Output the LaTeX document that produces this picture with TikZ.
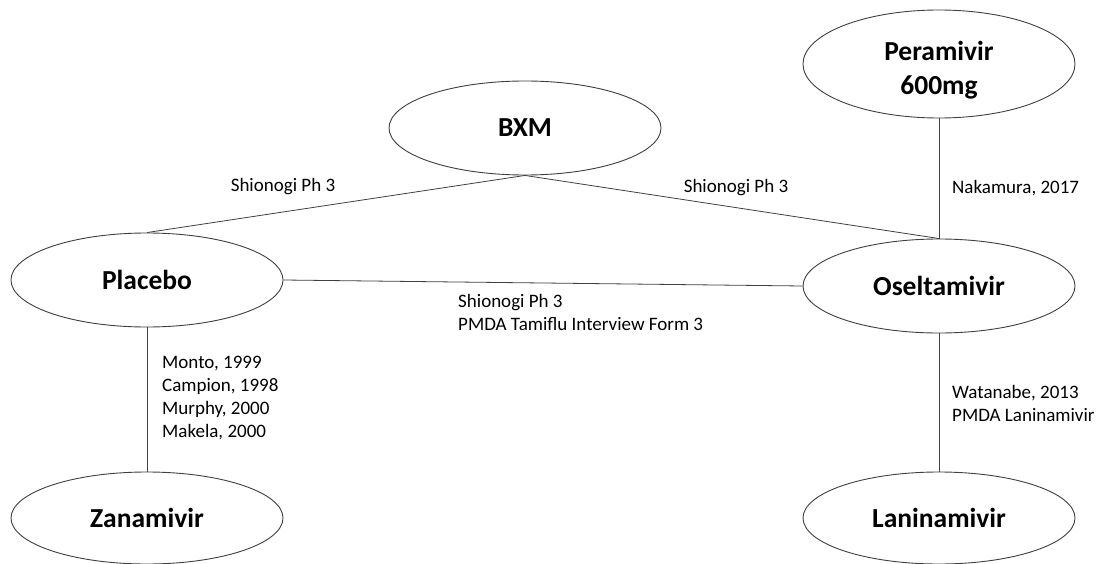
\documentclass[tikz,border=0pt]{standalone}
\usepackage{fontspec}
\setmainfont{Carlito}
\usetikzlibrary{shapes.geometric}
\begin{document}
\begin{tikzpicture}[x=1pt,y=-1pt,
  drug/.style={ellipse,draw=black!75,line width=0.9pt,minimum width=272pt,minimum height=94pt,inner sep=0pt},
  drugtext/.style={font=\fontsize{27.5}{33.5}\selectfont\bfseries,align=center,inner sep=0pt},
  link/.style={draw=black!75,line width=0.8pt},
  lbl/.style={font=\fontsize{19}{23}\selectfont,inner sep=0pt,align=left}]
\useasboundingbox[fill=white] (0,0) rectangle (1099,564);
% drug nodes
\node[drug,drugtext] (bxm) at (525,128) {BXM};
\node[drug,minimum height=108pt] (pera) at (939,64) {};
\node[drugtext] (peratext) at (939,70) {Peramivir\\600mg};
\node[drug,drugtext] (placebo) at (147,280) {Placebo};
\node[drug,drugtext] (osel) at (939,286) {Oseltamivir};
\node[drug,drugtext,minimum height=92pt] (zana) at (147,518) {Zanamivir};
\node[drug,drugtext,minimum height=92pt] (lani) at (939,518) {Laninamivir};
% connectors
\draw[link] (bxm.south) -- (placebo.north);
\draw[link] (bxm.south) -- (osel.north);
\draw[link] (pera.south) -- (osel.north);
\draw[link] (placebo.east) -- (osel.west);
\draw[link] (placebo.south) -- (zana.north);
\draw[link] (osel.south) -- (lani.north);
% labels
\node[lbl] (l1) at (283,186.5) {Shionogi Ph 3};
\node[lbl] (l2) at (736,187.5) {Shionogi Ph 3};
\node[lbl,anchor=west] (l3) at (952,188.5) {Nakamura, 2017};
\node[lbl,anchor=west] (l4) at (458,312.5) {Shionogi Ph 3\\PMDA Tamiflu Interview Form 3};
\node[lbl,anchor=west] (l5) at (162,398) {Monto, 1999\\Campion, 1998\\Murphy, 2000\\Makela, 2000};
\node[lbl,anchor=west] (l6) at (952,403) {Watanabe, 2013\\PMDA Laninamivir};
\end{tikzpicture}
\end{document}
